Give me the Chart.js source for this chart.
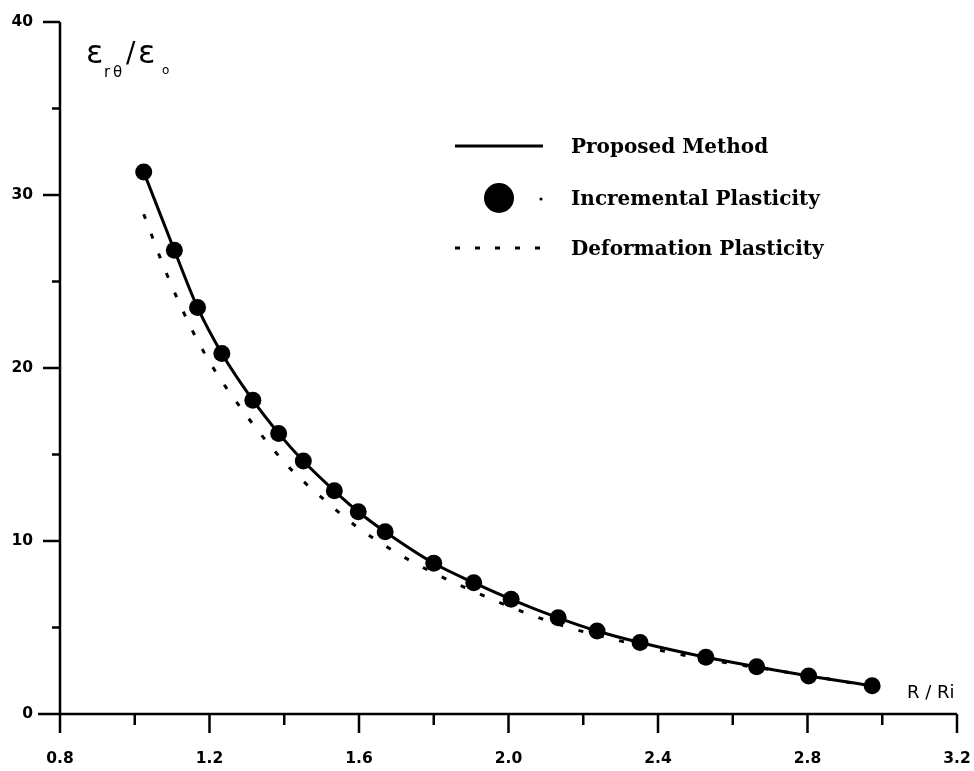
<!DOCTYPE html>
<html>
<head>
<meta charset="utf-8">
<script src="https://cdn.jsdelivr.net/npm/chart.js@4"></script>
<style>
  html, body { margin: 0; padding: 0; background: #ffffff; }
  canvas { display: block; }
</style>
</head>
<body>
<canvas id="chart" width="974" height="771"></canvas>
<script>
// Normalised radius R/Ri and shear strain ratio for the thick cylinder solutions
const incrementalR = [1.024, 1.106, 1.168, 1.233, 1.316, 1.385, 1.451, 1.534, 1.598, 1.670,
                      1.800, 1.907, 2.007, 2.133, 2.237, 2.352, 2.528, 2.664, 2.803, 2.973];
const incrementalStrain = [31.33, 26.81, 23.50, 20.84, 18.14, 16.22, 14.62, 12.90, 11.69, 10.53,
                           8.71, 7.59, 6.63, 5.56, 4.80, 4.13, 3.28, 2.73, 2.20, 1.63];

const proposedR = [1.024, 1.106, 1.168, 1.233, 1.316, 1.385, 1.451, 1.534, 1.598, 1.670,
                   1.800, 1.907, 2.007, 2.133, 2.237, 2.352, 2.528, 2.664, 2.803, 2.973];
const proposedStrain = [31.33, 26.81, 23.50, 20.84, 18.14, 16.22, 14.62, 12.90, 11.69, 10.53,
                        8.71, 7.59, 6.63, 5.56, 4.80, 4.13, 3.28, 2.73, 2.20, 1.63];

const deformationR = [1.024, 1.085, 1.155, 1.211, 1.275, 1.344, 1.418, 1.503, 1.592, 1.686,
                      1.788, 1.946, 2.049, 2.154, 2.261, 2.381, 2.496, 2.609, 2.720, 2.850, 2.973];
const deformationStrain = [28.89, 25.46, 22.13, 19.97, 17.95, 15.99, 14.14, 12.46, 10.86, 9.51,
                           8.28, 6.72, 5.82, 5.04, 4.43, 3.80, 3.28, 2.87, 2.50, 2.05, 1.60];

const xTickLabels = ['0.8', '1.2', '1.6', '2.0', '2.4', '2.8', '3.2'];
const yTickLabels = ['0', '10', '20', '30', '40'];
const seriesNames = ['Proposed Method', 'Incremental Plasticity', 'Deformation Plasticity'];
const xAxisName = 'R / Ri';

const toPoints = (xs, ys) => xs.map((x, i) => ({ x: x, y: ys[i] }));

const xLabelFor = v => { const s = (Math.round(v * 10) / 10).toFixed(1); return xTickLabels.includes(s) ? s : ''; };
const yLabelFor = v => { const s = String(Math.round(v)); return (Math.abs(v - Math.round(v)) < 1e-6 && yTickLabels.includes(s)) ? s : ''; };

// Axis lines with long (labelled) and short (unlabelled) outward tick marks
const axesPlugin = {
  id: 'axesPlugin',
  beforeDatasetsDraw(chart) {
    const { ctx, chartArea, scales } = chart;
    const xs = scales.x, ys = scales.y;
    ctx.save();
    ctx.strokeStyle = '#000';
    ctx.lineWidth = 2.5;
    ctx.lineCap = 'butt';
    ctx.beginPath();
    ctx.moveTo(chartArea.left, chartArea.top);
    ctx.lineTo(chartArea.left, chartArea.bottom);
    ctx.moveTo(chartArea.left, chartArea.bottom);
    ctx.lineTo(chartArea.right, chartArea.bottom);
    xs.ticks.forEach(t => {
      const px = xs.getPixelForValue(t.value);
      const len = xLabelFor(t.value) ? 19 : 11;
      ctx.moveTo(px, chartArea.bottom);
      ctx.lineTo(px, chartArea.bottom + len);
    });
    ys.ticks.forEach(t => {
      const py = ys.getPixelForValue(t.value);
      const len = yLabelFor(t.value) ? (t.value === 0 ? 22 : 17) : 8;
      ctx.moveTo(chartArea.left, py);
      ctx.lineTo(chartArea.left - len, py);
    });
    ctx.stroke();
    ctx.restore();
  }
};

// Axis names and the key
const annotationPlugin = {
  id: 'annotationPlugin',
  afterDraw(chart) {
    const { ctx } = chart;
    ctx.save();
    ctx.fillStyle = '#000';
    ctx.strokeStyle = '#000';
    ctx.textAlign = 'left';
    ctx.textBaseline = 'alphabetic';

    // vertical axis name: shear strain over yield strain
    ctx.font = '32px "DejaVu Sans"';
    ctx.fillText('ε', 86, 63);
    ctx.font = '15px "DejaVu Sans"';
    ctx.fillText('r', 104, 77);
    ctx.fillText('θ', 113, 77);
    ctx.font = '28px "DejaVu Sans"';
    ctx.fillText('/', 126, 62);
    ctx.font = '32px "DejaVu Sans"';
    ctx.fillText('ε', 138, 63);
    ctx.font = '12px "DejaVu Sans"';
    ctx.fillText('o', 162, 74);

    // horizontal axis name
    ctx.font = '18px "DejaVu Sans"';
    ctx.fillText(xAxisName, 907, 698);

    // key
    const lx0 = 455, lx1 = 543, tx = 571;
    const rows = [146, 198, 248];
    ctx.lineWidth = 3;
    ctx.beginPath();
    ctx.moveTo(lx0, rows[0]);
    ctx.lineTo(lx1, rows[0]);
    ctx.stroke();

    ctx.beginPath();
    ctx.arc(499, rows[1], 15, 0, Math.PI * 2);
    ctx.fill();
    ctx.beginPath();
    ctx.arc(541, rows[1] + 1, 1.6, 0, Math.PI * 2);
    ctx.fill();

    ctx.setLineDash([5, 15]);
    ctx.beginPath();
    ctx.moveTo(lx0, rows[2]);
    ctx.lineTo(lx1, rows[2]);
    ctx.stroke();
    ctx.setLineDash([]);

    ctx.font = 'bold 20px "DejaVu Serif"';
    ctx.textBaseline = 'middle';
    seriesNames.forEach((name, i) => ctx.fillText(name, tx, rows[i] + 2));
    ctx.restore();
  }
};

const tickFont = { family: '"DejaVu Sans"', size: 15.5, weight: 'bold' };

new Chart(document.getElementById('chart'), {
  type: 'scatter',
  data: {
    datasets: [
      {
        label: seriesNames[1],
        data: toPoints(incrementalR, incrementalStrain),
        showLine: false,
        pointRadius: 8.5,
        pointHoverRadius: 8.5,
        pointBackgroundColor: '#000',
        pointBorderWidth: 0
      },
      {
        label: seriesNames[0],
        data: toPoints(proposedR, proposedStrain),
        showLine: true,
        cubicInterpolationMode: 'monotone',
        borderColor: '#000',
        borderWidth: 3,
        pointRadius: 0
      },
      {
        label: seriesNames[2],
        data: toPoints(deformationR, deformationStrain),
        showLine: true,
        cubicInterpolationMode: 'monotone',
        borderColor: '#000',
        borderWidth: 3,
        borderDash: [5, 16],
        pointRadius: 0
      }
    ]
  },
  options: {
    responsive: false,
    animation: false,
    events: [],
    layout: { padding: { top: 22, right: 17, left: 0, bottom: 0 } },
    plugins: { legend: { display: false }, tooltip: { enabled: false } },
    scales: {
      x: {
        type: 'linear',
        min: 0.8,
        max: 3.2,
        afterFit(scale) { scale.height = 57; scale.paddingLeft = 0; scale.paddingRight = 0; },
        grid: { display: false, drawTicks: false },
        border: { display: false },
        ticks: {
          stepSize: 0.2,
          autoSkip: false,
          maxRotation: 0,
          padding: 36,
          color: '#000',
          font: tickFont,
          callback: v => xLabelFor(v)
        }
      },
      y: {
        type: 'linear',
        min: 0,
        max: 40,
        afterFit(scale) { scale.width = 60; scale.paddingTop = 0; scale.paddingBottom = 0; },
        grid: { display: false, drawTicks: false },
        border: { display: false },
        ticks: {
          stepSize: 5,
          autoSkip: false,
          padding: 27,
          color: '#000',
          font: tickFont,
          callback: v => yLabelFor(v)
        }
      }
    }
  },
  plugins: [axesPlugin, annotationPlugin]
});
</script>
</body>
</html>
